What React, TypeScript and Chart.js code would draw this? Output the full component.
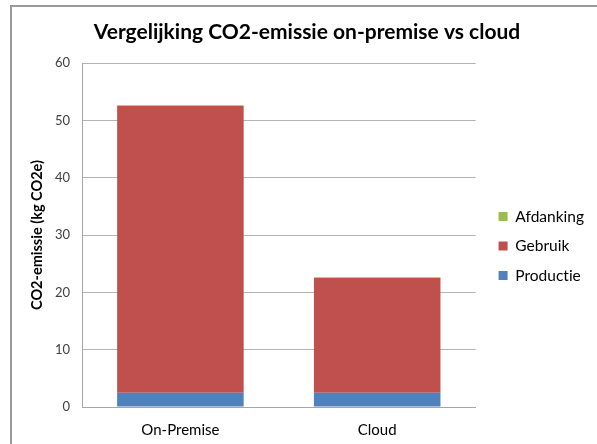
import { useEffect, useRef } from "react";
import Chart from "chart.js/auto";

const categories = ["On-Premise", "Cloud"];
const productie = [2.5, 2.5];
const gebruik = [50.0, 20.0];
const afdanking = [0.15, 0.15];
const seriesNames = ["Productie", "Gebruik", "Afdanking"];
const seriesColors = ["#4F81BD", "#C0504D", "#9BBB59"];
const yMin = 0;
const yMax = 60;
const yStep = 10;

const FONT = "Lato, 'Open Sans', sans-serif";

const noLigatures = {
  id: "noLigatures",
  beforeDraw(chart: any) {
    try {
      (chart.ctx as any).textRendering = "optimizeSpeed";
    } catch (e) {}
  },
};

const legendShift = {
  id: "legendShift",
  afterLayout(chart: any) {
    const l = chart.legend;
    if (l) {
      l.left += 9;
      l.right += 9;
    }
  },
};

export default function App() {
  const ref = useRef<HTMLCanvasElement | null>(null);
  useEffect(() => {
    document.body.style.margin = "0";
    const ctx = ref.current!.getContext("2d")!;
    const chart = new Chart(ctx, {
      type: "bar",
      plugins: [noLigatures, legendShift],
      data: {
        labels: categories,
        datasets: [productie, gebruik, afdanking].map((d, i) => ({
          label: seriesNames[i],
          data: d,
          backgroundColor: seriesColors[i],
          borderWidth: 0,
          categoryPercentage: 1,
          barPercentage: 0.643,
        })),
      },
      options: {
        animation: false,
        responsive: false,
        devicePixelRatio: 1,
        layout: { padding: { left: 29, right: 12, top: 20, bottom: 0 } },
        plugins: {
          title: {
            display: true,
            text: "Vergelijking CO2-emissie on-premise vs cloud",
            color: "#000",
            font: { family: FONT, size: 21, weight: "bold" },
            padding: { top: 0, bottom: 17.8 },
          },
          legend: {
            position: "right",
            reverse: true,
            title: { display: true, text: "", font: { size: 1 }, padding: { top: 13, bottom: 14 } },
            labels: {
              boxWidth: 9,
              boxHeight: 9,
              padding: 14,
              color: "#000",
              font: { family: FONT, size: 15.5 },
            },
          },
          tooltip: { enabled: false },
        },
        scales: {
          x: {
            stacked: true,
            grid: { display: false, drawTicks: false },
            border: { color: "#a6a6a6" },
            afterFit(scale: any) {
              scale.height = 37;
            },
            ticks: {
              color: "#000",
              padding: 14,
              font: { family: FONT, size: 15 },
            },
          },
          y: {
            stacked: true,
            min: yMin,
            max: yMax,
            afterFit(scale: any) {
              scale.width = 53;
            },
            ticks: {
              stepSize: yStep,
              color: "#404040",
              padding: 12,
              font: { family: FONT, size: 13 },
            },
            grid: { color: "#b3b3b3", drawTicks: false },
            border: { color: "#a6a6a6" },
            title: {
              display: true,
              text: "CO2-emissie (kg CO2e)",
              color: "#000",
              font: { family: FONT, size: 14.5, weight: "bold" },
              padding: { top: 0, bottom: 0 },
            },
          },
        },
      },
    });
    return () => chart.destroy();
  }, []);
  return (
    <div style={{ position: "absolute", left: 0, top: 0, width: 597, height: 444, background: "#fff", overflow: "hidden" }}>
      <div style={{ position: "absolute", left: 10, top: 5, width: 620, height: 480, borderTop: "2px solid #9a9a9a", borderLeft: "2px solid #9a9a9a" }} />
      <canvas ref={ref} width={597} height={444} style={{ position: "absolute", left: 0, top: 0 }} />
    </div>
  );
}
